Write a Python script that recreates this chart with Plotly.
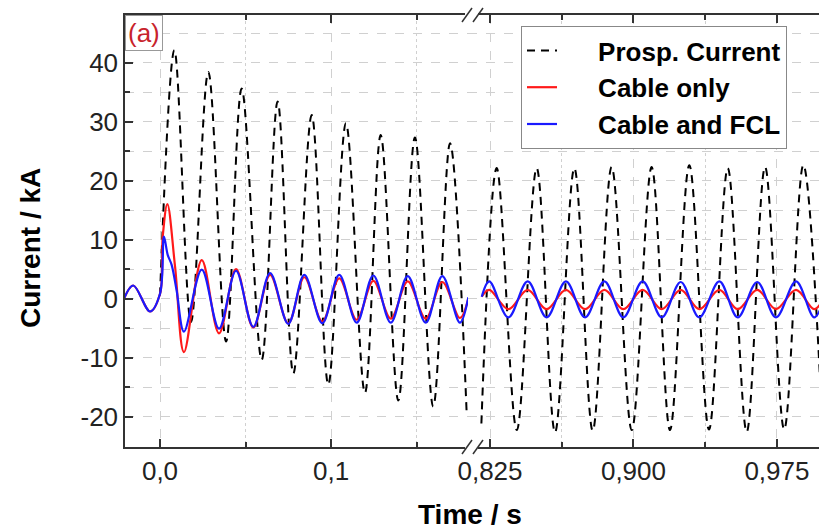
import plotly.graph_objects as go

# ---------------- data ----------------
# Left time window (fault inception), seconds / kA
prosp_t_left = [0.0, 0.0084, 0.0181, 0.0282, 0.0386, 0.0477, 0.0594, 0.0687, 0.0779,
                0.0886, 0.0983, 0.1086, 0.1197, 0.1289, 0.1392, 0.1489, 0.1596, 0.1694, 0.1791]
prosp_i_left = [0.5, 42.1, -4.0, 38.4, -7.3, 35.6, -10.4, 33.4, -12.7,
                31.1, -14.6, 29.7, -16.0, 27.7, -17.3, 27.3, -18.3, 26.3, -19.3]

cable_t_left = [-0.0210, -0.0156, -0.0058, 0.0, 0.0016, 0.0043, 0.0088, 0.0140, 0.0244,
                0.0345, 0.0444, 0.0545, 0.0643, 0.0749, 0.0843, 0.0948, 0.1047, 0.1149,
                0.1246, 0.1348, 0.1447, 0.1552, 0.1649, 0.1752, 0.1801]
cable_i_left = [0.0, 2.2, -2.2, 0.8, 10.5, 16.0, 5.4, -9.1, 6.5,
                -5.9, 5.0, -4.9, 4.0, -4.2, 3.6, -3.9, 3.4, -3.6,
                3.0, -3.4, 2.9, -3.4, 2.8, -3.3, 0.0]

fcl_t_left = [-0.0210, -0.0156, -0.0058, 0.0, 0.0023, 0.0045, 0.0068, 0.0097, 0.0140,
              0.0244, 0.0345, 0.0444, 0.0545, 0.0643, 0.0749, 0.0843, 0.0948, 0.1047,
              0.1149, 0.1246, 0.1348, 0.1447, 0.1552, 0.1649, 0.1752, 0.1801]
fcl_i_left = [0.0, 2.2, -2.2, 0.8, 10.5, 7.4, 5.7, 1.4, -5.6,
              4.9, -5.1, 4.7, -4.8, 4.3, -4.3, 4.0, -4.2, 4.0,
              -4.1, 3.9, -4.1, 3.8, -4.1, 3.8, -4.1, 0.2]

# Right time window (steady state)
prosp_t_right = [0.8205, 0.8285, 0.8390, 0.8494, 0.8590, 0.8691, 0.8787, 0.8886, 0.8991,
                 0.9095, 0.9191, 0.9292, 0.9395, 0.9493, 0.9592, 0.9688, 0.9788, 0.9888, 0.9989]
prosp_i_right = [-21.2, 22.1, -22.3, 22.1, -22.7, 22.1, -22.4, 22.3, -22.3,
                 22.3, -22.3, 22.6, -22.2, 22.1, -22.6, 22.3, -22.2, 22.6, -22.4]

steady_t_right = [0.8207, 0.8246, 0.8346, 0.8447, 0.8546, 0.8647, 0.8747, 0.8848, 0.8947,
                  0.9048, 0.9148, 0.9247, 0.9344, 0.9449, 0.9545, 0.9647, 0.9745, 0.9850,
                  0.9945, 0.9995]
cable_i_right = [0.3, 1.45, -1.8, 1.45, -1.8, 1.45, -1.8, 1.45, -1.8,
                 1.45, -1.8, 1.45, -1.8, 1.45, -1.8, 1.45, -1.8, 1.45, -1.8, 0.0]
fcl_i_right = [0.3, 2.9, -3.2, 2.9, -3.2, 2.9, -3.2, 2.9, -3.2,
               2.9, -3.2, 2.8, -3.2, 2.9, -3.2, 2.8, -3.2, 2.9, -3.2, -0.2]

left_ticks = [0.0, 0.1]
left_ticktext = ["0,0", "0,1"]
left_minor = [0.05, 0.15]
right_ticks = [0.825, 0.900, 0.975]
right_ticktext = ["0,825", "0,900", "0,975"]
right_minor = [0.8625, 0.9375]
y_ticks = [-20, -10, 0, 10, 20, 30, 40]
y_ticktext = ["-20", "-10", "0", "10", "20", "30", "40"]
y_minor = [-25, -15, -5, 5, 15, 25, 35, 45]

# ---------------- figure ----------------
FONT = "Liberation Sans, Arial, Helvetica, sans-serif"
BLACK_DASH = "8px,6px"
RED = "#ff1a1a"
BLUE = "#1a1aff"
PAD = "\u00a0\u00a0\u00a0\u00a0\u00a0"

fig = go.Figure()
fig.add_trace(go.Scatter(x=prosp_t_left, y=prosp_i_left, xaxis="x", yaxis="y", mode="lines",
                         line=dict(color="black", width=2, dash=BLACK_DASH, shape="spline"),
                         name=PAD + "Prosp. Current", legendgroup="p"))
fig.add_trace(go.Scatter(x=prosp_t_right, y=prosp_i_right, xaxis="x2", yaxis="y", mode="lines",
                         line=dict(color="black", width=2, dash=BLACK_DASH, shape="spline"),
                         name=PAD + "Prosp. Current", legendgroup="p", showlegend=False))
fig.add_trace(go.Scatter(x=cable_t_left, y=cable_i_left, xaxis="x", yaxis="y", mode="lines",
                         line=dict(color=RED, width=2.2, shape="spline"),
                         name=PAD + "Cable only", legendgroup="c"))
fig.add_trace(go.Scatter(x=steady_t_right, y=cable_i_right, xaxis="x2", yaxis="y", mode="lines",
                         line=dict(color=RED, width=2.2, shape="spline"),
                         name=PAD + "Cable only", legendgroup="c", showlegend=False))
fig.add_trace(go.Scatter(x=fcl_t_left, y=fcl_i_left, xaxis="x", yaxis="y", mode="lines",
                         line=dict(color=BLUE, width=2.2, shape="spline"),
                         name=PAD + "Cable and FCL", legendgroup="f"))
fig.add_trace(go.Scatter(x=steady_t_right, y=fcl_i_right, xaxis="x2", yaxis="y", mode="lines",
                         line=dict(color=BLUE, width=2.2, shape="spline"),
                         name=PAD + "Cable and FCL", legendgroup="f", showlegend=False))

L, T, W, H = 125, 15, 694, 432
def px(x):
    return (x - L) / W
def py(y):
    return (T + H - y) / H

split = px(468)
axis_col = "#333333"
grid_col = "#d0d0d0"
TICKFONT = dict(size=26, color="#222", family=FONT)

common_x = dict(ticks="inside", ticklen=8, tickwidth=1.5, tickcolor=axis_col,
                showline=True, linecolor=axis_col, linewidth=1.5, mirror="ticks",
                showgrid=True, gridcolor=grid_col, griddash="dash", gridwidth=1,
                zeroline=False, tickfont=TICKFONT, automargin=False,
                anchor="y", tickmode="array")

fig.update_layout(
    width=819, height=530,
    margin=dict(l=L, r=0, t=T, b=530 - T - H, autoexpand=False),
    paper_bgcolor="white", plot_bgcolor="white",
    font=dict(family=FONT, color="#222", size=24),
    xaxis=dict(domain=[0, split], range=[-0.02044, 0.1799],
               tickvals=left_ticks, ticktext=left_ticktext,
               minor=dict(tickmode="array", tickvals=left_minor, ticks="inside", ticklen=5,
                          tickcolor=axis_col, showgrid=True, gridcolor=grid_col, griddash="dot"),
               **common_x),
    xaxis2=dict(domain=[split, 1], range=[0.8135, 0.997],
                tickvals=right_ticks, ticktext=right_ticktext,
                minor=dict(tickmode="array", tickvals=right_minor, ticks="inside", ticklen=5,
                           tickcolor=axis_col, showgrid=True, gridcolor=grid_col, griddash="dot"),
                **common_x),
    yaxis=dict(range=[-25.17, 48.05], tickmode="array", tickvals=y_ticks, ticktext=y_ticktext,
               ticks="inside", ticklen=8, tickwidth=1.5, tickcolor=axis_col,
               showline=True, linecolor=axis_col, linewidth=1.5, automargin=False,
               showgrid=True, gridcolor=grid_col, griddash="dash", zeroline=False,
               tickfont=TICKFONT,
               minor=dict(tickmode="array", tickvals=y_minor, ticks="inside", ticklen=5,
                          tickcolor=axis_col, showgrid=True, gridcolor=grid_col, griddash="dash")),
    legend=dict(x=px(521), y=py(26), xanchor="left", yanchor="top",
                bgcolor="white", bordercolor="#888", borderwidth=1,
                font=dict(size=26, color="black", family=FONT, weight="bold"),
                tracegroupgap=0),
    showlegend=True,
)

# axis titles and panel label
fig.add_annotation(text="<b>Time / s</b>", x=px(470), y=py(514), xref="paper", yref="paper",
                   showarrow=False, font=dict(size=28, color="black", family=FONT),
                   xanchor="center", yanchor="middle")
fig.add_annotation(text="<b>Current / kA</b>", x=px(30), y=py(248), xref="paper", yref="paper",
                   showarrow=False, textangle=-90, font=dict(size=28, color="black", family=FONT),
                   xanchor="center", yanchor="middle")
fig.add_annotation(text="(a)", x=0, y=1, xref="paper", yref="paper", showarrow=False,
                   xanchor="left", yanchor="top", font=dict(size=26, color="#c8232c", family=FONT),
                   bgcolor="white", bordercolor="#999", borderwidth=1, borderpad=2)

# axis-break marks (//) on top and bottom frame
for ybase in (T, T + H):
    fig.add_shape(type="line", x0=px(465), x1=px(478), y0=py(ybase), y1=py(ybase),
                  xref="paper", yref="paper", line=dict(color="white", width=4))
    for xc in (467, 478):
        fig.add_shape(type="line", x0=px(xc - 5), x1=px(xc + 5), y0=py(ybase + 7), y1=py(ybase - 7),
                      xref="paper", yref="paper", line=dict(color=axis_col, width=1.5))

fig.write_html("out.html", config={"displayModeBar": False},
               post_script="document.body.style.margin='0px';")
